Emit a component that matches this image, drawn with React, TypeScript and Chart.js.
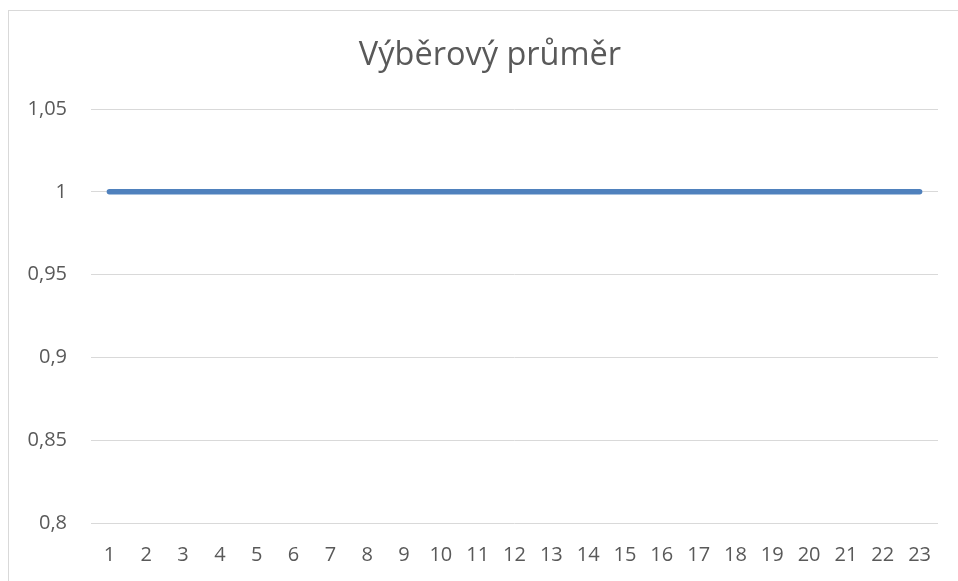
import React, { useEffect, useRef } from "react";
import { Chart, registerables } from "chart.js";

Chart.register(...registerables);

const categories: string[] = Array.from({ length: 23 }, (_, i) => String(i + 1));
const seriesValues: number[] = [1, 1, 1, 1, 1, 1, 1, 1, 1, 1, 1, 1, 1, 1, 1, 1, 1, 1, 1, 1, 1, 1, 1];
const yMin = 0.8;
const yMax = 1.05;
const yStep = 0.05;
const titleText = "Výběrový průměr";

const fmt = (v: number) => String(Math.round(v * 100) / 100).replace(".", ",");

const titleShift = {
  id: "titleShift",
  afterLayout(chart: any) {
    const t = chart.titleBlock;
    if (t) {
      t.left = 42;
      t.width = t.right - t.left;
    }
  },
};

export default function App() {
  const ref = useRef<HTMLCanvasElement | null>(null);
  useEffect(() => {
    if (!ref.current) return;
    const chart = new Chart(ref.current, {
      type: "line",
      data: {
        labels: categories,
        datasets: [
          {
            label: titleText,
            data: seriesValues,
            borderColor: "#4F81BD",
            borderWidth: 5.5,
            borderCapStyle: "round",
            pointRadius: 0,
            fill: false,
            tension: 0,
          },
        ],
      },
      plugins: [titleShift],
      options: {
        animation: false,
        responsive: false,
        maintainAspectRatio: false,
        layout: { padding: { left: 0, right: 20, top: 0, bottom: 0 } },
        plugins: {
          legend: { display: false },
          tooltip: { enabled: false },
          title: {
            display: true,
            text: titleText,
            color: "#595959",
            font: { family: "'Open Sans'", size: 32.5, weight: "normal" },
            padding: { top: 36, bottom: 34 },
          },
        },
        scales: {
          x: {
            offset: true,
            grid: { display: false, drawTicks: false },
            border: { display: false },
            ticks: {
              color: "#595959",
              font: { family: "'Open Sans'", size: 20 },
              padding: 20,
              maxRotation: 0,
              autoSkip: false,
            },
            afterFit: (s: any) => {
              s.height = 58;
            },
          },
          y: {
            min: yMin,
            max: yMax,
            grid: { color: "#D9D9D9", lineWidth: 1, drawTicks: false },
            border: { display: false },
            ticks: {
              stepSize: yStep,
              color: "#595959",
              font: { family: "'Open Sans'", size: 20 },
              padding: 24,
              callback: (v: any) => fmt(Number(v)),
            },
            afterFit: (s: any) => {
              s.width = 91;
            },
          },
        },
      },
    });
    return () => chart.destroy();
  }, []);
  return (
    <div
      style={{
        position: "fixed",
        left: 0,
        top: 0,
        width: 958,
        height: 581,
        overflow: "hidden",
        background: "#ffffff",
      }}
    >
      <div
        style={{
          position: "absolute",
          left: 8,
          top: 10,
          width: 1200,
          height: 1200,
          border: "1px solid #D9D9D9",
        }}
      />
      <canvas
        ref={ref}
        width={958}
        height={581}
        style={{ position: "absolute", left: 0, top: 0, width: 958, height: 581 }}
      />
    </div>
  );
}
